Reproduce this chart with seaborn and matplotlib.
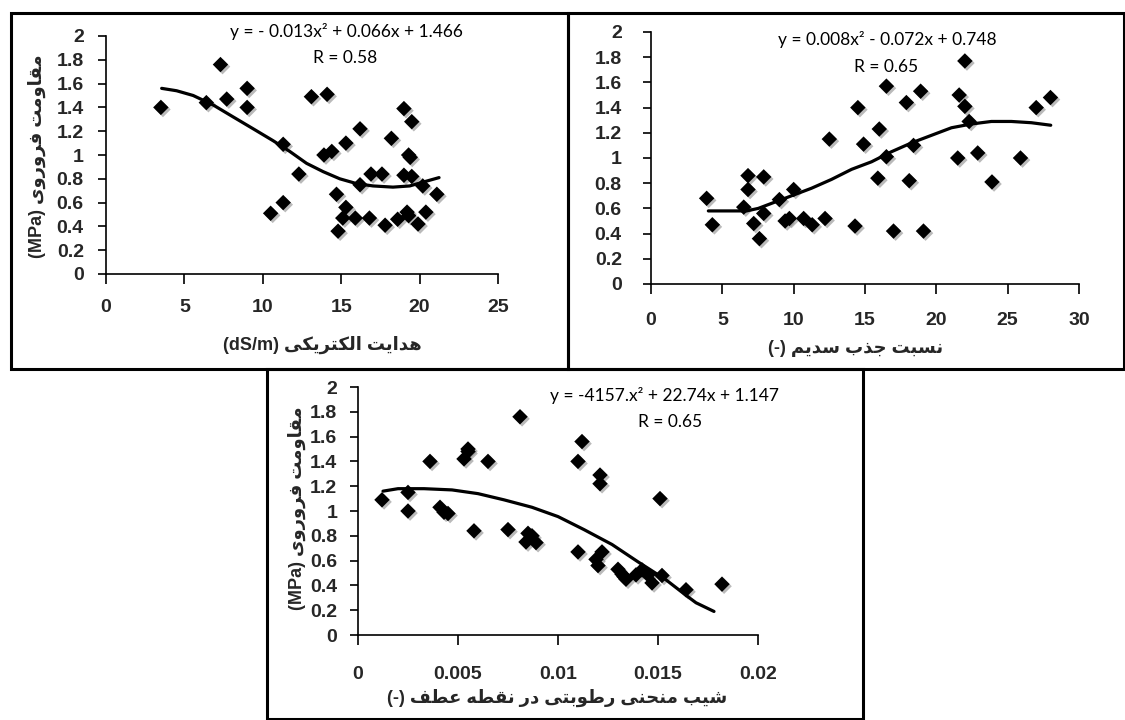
import numpy as np
import pandas as pd
import matplotlib
matplotlib.use("Agg")
import matplotlib.pyplot as plt
import matplotlib.patheffects as pe
from matplotlib.patches import Rectangle
import seaborn as sns

# %% data ========================================================================
# panel 1 - electrical conductivity vs penetration resistance
ec_x = [3.5, 6.4, 7.3, 7.7, 9.0, 9.0, 10.5, 11.3, 11.3, 12.3, 13.1, 14.1, 13.9, 14.4,
        14.7, 14.8, 15.3, 15.1, 15.3, 15.9, 16.2, 16.2, 16.8, 16.9, 17.6, 17.8, 18.2,
        18.6, 19.0, 19.5, 19.3, 19.4, 19.0, 19.5, 19.2, 19.3, 19.9, 20.2, 20.4, 21.1]
ec_y = [1.40, 1.44, 1.76, 1.47, 1.56, 1.40, 0.51, 0.60, 1.09, 0.84, 1.49, 1.51, 1.00, 1.03,
        0.67, 0.36, 0.56, 0.47, 1.10, 0.47, 1.22, 0.75, 0.47, 0.84, 0.84, 0.41, 1.14,
        0.46, 1.39, 1.28, 1.00, 0.98, 0.83, 0.82, 0.52, 0.49, 0.42, 0.74, 0.52, 0.67]
ec_fit_x = [3.55, 4.5, 5.56, 6.84, 8.11, 9.39, 10.66, 11.72, 12.79, 13.85, 14.91, 15.97,
            17.03, 18.3, 19.37, 20.43, 21.24]
ec_fit_y = [1.56, 1.54, 1.50, 1.42, 1.32, 1.22, 1.12, 1.03, 0.93, 0.86, 0.80, 0.76,
            0.74, 0.73, 0.74, 0.78, 0.81]

# panel 2 - sodium adsorption ratio
sar_x = [3.9, 4.3, 6.5, 6.8, 6.8, 7.2, 7.6, 7.9, 7.9, 9.0, 9.4, 9.7, 10.0, 10.7, 11.3,
         12.2, 12.5, 14.3, 14.5, 14.9, 15.9, 16.0, 16.5, 16.5, 17.0, 17.9, 18.1, 18.4,
         18.9, 19.1, 21.5, 21.6, 22.0, 22.0, 22.3, 22.9, 23.9, 25.9, 27.0, 28.0]
sar_y = [0.68, 0.47, 0.61, 0.86, 0.75, 0.48, 0.36, 0.85, 0.56, 0.67, 0.50, 0.52, 0.75, 0.52,
         0.47, 0.52, 1.15, 0.46, 1.40, 1.11, 0.84, 1.23, 1.57, 1.01, 0.42, 1.44, 0.82,
         1.10, 1.53, 0.42, 1.00, 1.50, 1.77, 1.41, 1.29, 1.04, 0.81, 1.00, 1.40, 1.48]
sar_fit_x = [4.02, 6.70, 7.52, 8.45, 9.85, 11.25, 12.65, 14.06, 15.46, 16.86, 18.26,
             19.66, 21.06, 22.46, 23.86, 25.26, 26.66, 28.02]
sar_fit_y = [0.58, 0.58, 0.60, 0.64, 0.70, 0.76, 0.83, 0.91, 0.97, 1.05, 1.12,
             1.18, 1.24, 1.27, 1.29, 1.29, 1.28, 1.26]

# panel 3 - slope of retention curve at inflection point
slope_x = [0.0012, 0.0025, 0.0025, 0.0036, 0.0041, 0.0043, 0.0045, 0.0053, 0.0055, 0.0055,
           0.0058, 0.0065, 0.0075, 0.0081, 0.0084, 0.0085, 0.0087, 0.0089, 0.0110, 0.0110,
           0.0112, 0.0119, 0.0120, 0.0121, 0.0121, 0.0122, 0.0130, 0.0132, 0.0133, 0.0134,
           0.0139, 0.0142, 0.0145, 0.0147, 0.0151, 0.0152, 0.0164, 0.0182]
slope_y = [1.09, 1.15, 1.00, 1.40, 1.03, 0.99, 0.98, 1.42, 1.50, 1.48,
           0.84, 1.40, 0.85, 1.76, 0.75, 0.82, 0.80, 0.745, 0.67, 1.40,
           1.56, 0.61, 0.56, 1.29, 1.22, 0.67, 0.53, 0.49, 0.47, 0.45,
           0.485, 0.525, 0.485, 0.42, 1.10, 0.48, 0.365, 0.41]
slope_fit_x = [0.00125, 0.002, 0.0033, 0.0047, 0.006, 0.0073, 0.0087, 0.010, 0.0113,
               0.0127, 0.014, 0.0154, 0.0164, 0.0169, 0.0178]
slope_fit_y = [1.16, 1.18, 1.18, 1.17, 1.14, 1.09, 1.03, 0.955, 0.85,
               0.73, 0.59, 0.445, 0.32, 0.26, 0.19]

y_ticks = [0, 0.2, 0.4, 0.6, 0.8, 1.0, 1.2, 1.4, 1.6, 1.8, 2.0]
y_ticklabels = ["0", "0.2", "0.4", "0.6", "0.8", "1", "1.2", "1.4", "1.6", "1.8", "2"]
ec_ticks = [0, 5, 10, 15, 20, 25]
sar_ticks = [0, 5, 10, 15, 20, 25, 30]
slope_ticks = [0, 0.005, 0.01, 0.015, 0.02]
slope_ticklabels = ["0", "0.005", "0.01", "0.015", "0.02"]

eqs = ["y = - 0.013x\u00b2 + 0.066x + 1.466", "y = 0.008x\u00b2 - 0.072x + 0.748",
       "y = -4157.x\u00b2 + 22.74x + 1.147"]
r_texts = ["R = 0.58", "R = 0.65", "R = 0.65"]

y_label_fa = "مقاومت فروروی"
x_labels_fa = ["هدایت الکتریکی", "نسبت جذب سدیم", "شیب منحنی رطوبتی در نقطه عطف"]
x_labels_lat = ["(dS/m)", "(-)", "(-)"]

# %% minimal arabic-script shaping (matplotlib has no bidi / joining) =============
# isolated, final, initial, medial
FORMS = {
    "ا": ("\ufe8d", "\ufe8e", None, None), "ب": ("\ufe8f", "\ufe90", "\ufe91", "\ufe92"),
    "ت": ("\ufe95", "\ufe96", "\ufe97", "\ufe98"), "ج": ("\ufe9d", "\ufe9e", "\ufe9f", "\ufea0"),
    "ح": ("\ufea1", "\ufea2", "\ufea3", "\ufea4"), "د": ("\ufea9", "\ufeaa", None, None),
    "ذ": ("\ufeab", "\ufeac", None, None), "ر": ("\ufead", "\ufeae", None, None),
    "س": ("\ufeb1", "\ufeb2", "\ufeb3", "\ufeb4"), "ش": ("\ufeb5", "\ufeb6", "\ufeb7", "\ufeb8"),
    "ط": ("\ufec1", "\ufec2", "\ufec3", "\ufec4"), "ع": ("\ufec9", "\ufeca", "\ufecb", "\ufecc"),
    "ف": ("\ufed1", "\ufed2", "\ufed3", "\ufed4"), "ق": ("\ufed5", "\ufed6", "\ufed7", "\ufed8"),
    "ل": ("\ufedd", "\ufede", "\ufedf", "\ufee0"), "م": ("\ufee1", "\ufee2", "\ufee3", "\ufee4"),
    "ن": ("\ufee5", "\ufee6", "\ufee7", "\ufee8"), "ه": ("\ufee9", "\ufeea", "\ufeeb", "\ufeec"),
    "و": ("\ufeed", "\ufeee", None, None), "ک": ("\ufb8e", "\ufb8f", "\ufb90", "\ufb91"),
    "ی": ("\ufbfc", "\ufbfd", "\ufbfe", "\ufbff"),
}


def shape(s):
    out = []
    for i, ch in enumerate(s):
        if ch not in FORMS:
            out.append(ch)
            continue
        prev = s[i - 1] if i > 0 else None
        nxt = s[i + 1] if i + 1 < len(s) else None
        jp = prev in FORMS and FORMS[prev][2] is not None
        jn = nxt in FORMS and FORMS[ch][2] is not None
        iso, fin, ini, med = FORMS[ch]
        out.append(med if (jp and jn) else fin if jp else ini if jn else iso)
    return "".join(out)


def rtl(fa, lat):
    return lat + " " + shape(fa)[::-1]


# %% figure =======================================================================
sns.set_theme(style="white")
plt.rcParams["font.family"] = ["Lato", "DejaVu Sans"]
TICK_FONT = ["Liberation Sans", "DejaVu Sans"]
LABEL_FONT = ["Liberation Sans", "DejaVu Sans"]
W, H = 1125, 720
fig = plt.figure(figsize=(W / 100, H / 100), dpi=100)
fig.patch.set_facecolor("white")


def frac(l, t, r, b):
    return [l / W, 1 - b / H, (r - l) / W, (b - t) / H]


def fx(x):
    return x / W


def fy(y):
    return 1 - y / H


# panel frames
for l, t, r, b in [(11, 13, 568, 369), (568, 13, 1124, 369), (267, 369, 863, 719)]:
    fig.patches.append(Rectangle((fx(l), fy(b)), fx(r) - fx(l), fy(t) - fy(b),
                                 transform=fig.transFigure, fill=False,
                                 edgecolor="black", linewidth=2.2, zorder=0))

panels = [
    dict(box=(106, 36, 498, 274), x=ec_x, y=ec_y, fx=ec_fit_x, fy=ec_fit_y, xlim=(0, 25),
         xt=ec_ticks, xtl=[str(t) for t in ec_ticks], xpad=11, ypad=10,
         eq=(346, 32), r=(345, 58), xl=(322, 345), yl=(37, 156)),
    dict(box=(651, 32, 1079, 284), x=sar_x, y=sar_y, fx=sar_fit_x, fy=sar_fit_y, xlim=(0, 30),
         xt=sar_ticks, xtl=[str(t) for t in sar_ticks], xpad=13, ypad=15,
         eq=(887, 39), r=(886, 67), xl=(856, 348), yl=None),
    dict(box=(358, 387, 758, 635), x=slope_x, y=slope_y, fx=slope_fit_x, fy=slope_fit_y,
         xlim=(0, 0.02), xt=slope_ticks, xtl=slope_ticklabels, xpad=15, ypad=9,
         eq=(665, 395), r=(670, 422), xl=(557, 698), yl=(297, 508)),
]

for i, p in enumerate(panels):
    ax = fig.add_axes(frac(*p["box"]))
    ax.set_facecolor("none")
    df = pd.DataFrame({"x": p["x"], "y": p["y"]})
    sns.scatterplot(data=df, x="x", y="y", ax=ax, marker="D", s=62, color="black",
                    edgecolor="black", linewidth=0, zorder=3)
    ax.collections[0].set_path_effects([
        pe.SimplePatchShadow(offset=(1.5, -1.5), shadow_rgbFace="0.55", alpha=0.6),
        pe.Normal()])
    fit = pd.DataFrame({"x": p["fx"], "y": p["fy"]})
    sns.lineplot(data=fit, x="x", y="y", ax=ax, color="black", linewidth=2.3,
                 sort=False, estimator=None, zorder=4)

    ax.set_xlim(*p["xlim"])
    ax.set_ylim(0, 2)
    ax.set_xticks(p["xt"])
    ax.set_xticklabels(p["xtl"], fontweight="bold", fontsize=14, family=TICK_FONT)
    ax.set_yticks(y_ticks)
    ax.set_yticklabels(y_ticklabels, fontweight="bold", fontsize=14, family=TICK_FONT)
    ax.tick_params(axis="x", direction="out", length=7, width=1.2, color="black",
                   pad=p["xpad"], bottom=True)
    ax.tick_params(axis="y", direction="out", length=6, width=1.2, color="black",
                   pad=p["ypad"], left=True)
    for side in ["top", "right"]:
        ax.spines[side].set_visible(False)
    for side in ["left", "bottom"]:
        ax.spines[side].set_color("black")
        ax.spines[side].set_linewidth(1.2)
    ax.set_xlabel("")
    ax.set_ylabel("")
    ax.grid(False)

    fig.text(fx(p["eq"][0]), fy(p["eq"][1]), eqs[i], ha="center", va="center",
             fontsize=12.5, color="black")
    fig.text(fx(p["r"][0]), fy(p["r"][1]), r_texts[i], ha="center", va="center",
             fontsize=12.5, color="black")
    fig.text(fx(p["xl"][0]), fy(p["xl"][1]), rtl(x_labels_fa[i], x_labels_lat[i]),
             ha="center", va="center", fontsize=13, fontweight="bold", family=LABEL_FONT)
    if p["yl"] is not None:
        fig.text(fx(p["yl"][0]), fy(p["yl"][1]), rtl(y_label_fa, "(MPa)"), rotation=90,
                 ha="center", va="center", fontsize=13, fontweight="bold",
                 family=LABEL_FONT)

plt.savefig("out.png", dpi=100)
